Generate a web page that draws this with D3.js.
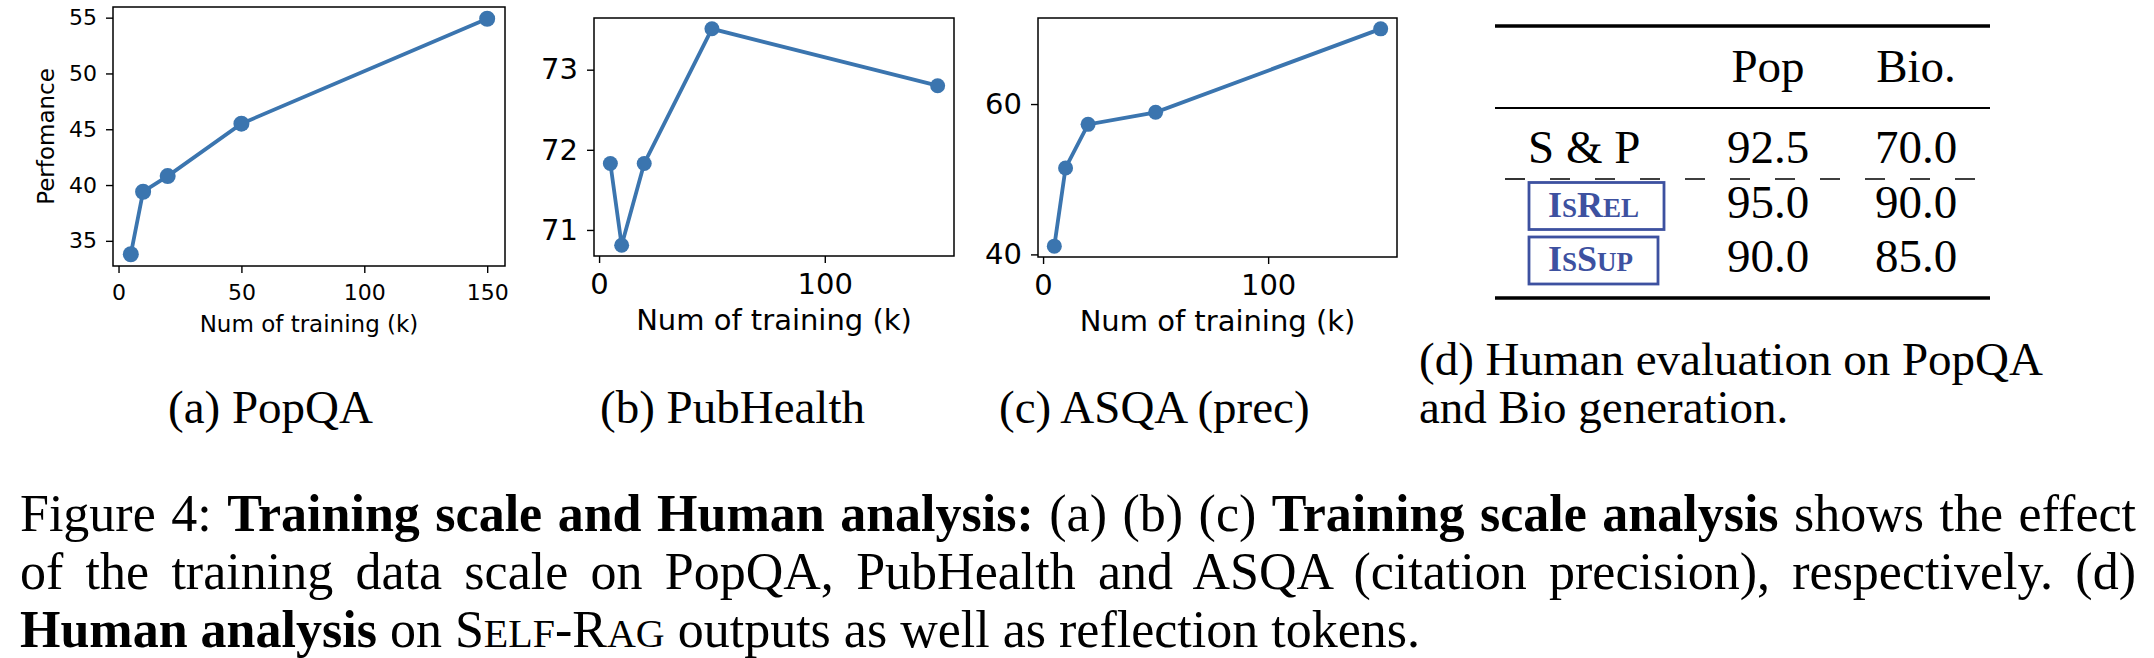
<!DOCTYPE html>
<html>
<head>
<meta charset="utf-8">
<script src="https://cdn.jsdelivr.net/npm/d3@7"></script>
<style>
  html, body { margin: 0; padding: 0; background: #fff; }
</style>
</head>
<body>
<div id="fig"></div>
<script>
// data
var trainSizes = [5, 10, 20, 50, 150];
var popqaScores = [33.8, 39.4, 40.8, 45.5, 54.9];
var pubhealthScores = [71.83, 70.81, 71.83, 73.51, 72.80];
var asqaScores = [41.1, 51.5, 57.3, 58.9, 70.0];

var popTicksX = [0, 50, 100, 150];
var popTicksY = [35, 40, 45, 50, 55];
var pubTicksX = [0, 100];
var pubTicksY = [71, 72, 73];
var asqaTicksX = [0, 100];
var asqaTicksY = [40, 60];

var subCaptions = ['(a) PopQA', '(b) PubHealth', '(c) ASQA (prec)'];

// table (d)
var tableCols = ['Pop', 'Bio.'];
var tableRows = ['S & P', 'IsRel', 'IsSup'];
var popHuman = ['92.5', '95.0', '90.0'];
var bioHuman = ['70.0', '90.0', '85.0'];

var lineColor = '#3b75af';
var tokenColor = '#3d51a0';
var serif = '"Liberation Serif", "Times New Roman", serif';
var sans = '"DejaVu Sans", sans-serif';

var width = 2154;
var height = 658;

var svg = d3.select('#fig').append('svg')
	.attr('width', width)
	.attr('height', height)
	.style('display', 'block');

// matplotlib style 5% padding around the data
function padded(vals) {
	var ext = d3.extent(vals);
	var m = (ext[1] - ext[0]) * 0.05;
	return [ext[0] - m, ext[1] + m];
}

function DrawPanel(cfg) {
	var g = svg.append('g');
	var x = d3.scaleLinear().domain(padded(trainSizes)).range([cfg.left, cfg.right]);
	var y = d3.scaleLinear().domain(padded(cfg.values)).range([cfg.bottom, cfg.top]);

	var xAxisCall = d3.axisBottom(x).tickValues(cfg.xTicks).tickSize(7).tickSizeOuter(0)
		.tickPadding(cfg.xPad).tickFormat(d3.format('d'));
	var yAxisCall = d3.axisLeft(y).tickValues(cfg.yTicks).tickSize(7).tickSizeOuter(0)
		.tickPadding(9).tickFormat(d3.format('d'));

	var xa = g.append('g')
		.attr('transform', 'translate(0,' + cfg.bottom + ')')
		.call(xAxisCall);
	var ya = g.append('g')
		.attr('transform', 'translate(' + cfg.left + ',0)')
		.call(yAxisCall);
	[xa, ya].forEach(function(a) {
		a.select('.domain').remove();
		a.selectAll('line').attr('stroke', '#000').attr('stroke-width', 1.4);
		a.selectAll('text').attr('fill', '#000').style('font-family', sans).style('font-size', cfg.font + 'px');
	});

	// frame
	g.append('rect')
		.attr('x', cfg.left).attr('y', cfg.top)
		.attr('width', cfg.right - cfg.left).attr('height', cfg.bottom - cfg.top)
		.attr('fill', 'none').attr('stroke', '#000').attr('stroke-width', 1.5);

	var pts = trainSizes.map(function(t, i) { return {t: t, v: cfg.values[i]}; });
	var line = d3.line()
		.x(function(d) { return x(d.t); })
		.y(function(d) { return y(d.v); });

	g.append('path').datum(pts)
		.attr('d', line)
		.attr('fill', 'none')
		.attr('stroke', lineColor)
		.attr('stroke-width', 3.8);

	g.selectAll('circle.pt').data(pts).enter().append('circle')
		.attr('class', 'pt')
		.attr('cx', function(d) { return x(d.t); })
		.attr('cy', function(d) { return y(d.v); })
		.attr('r', cfg.r)
		.attr('fill', lineColor);

	g.append('text')
		.attr('x', (cfg.left + cfg.right) / 2)
		.attr('y', cfg.bottom + cfg.labelOff)
		.attr('text-anchor', 'middle')
		.style('font-family', sans)
		.style('font-size', cfg.labelFont + 'px')
		.text('Num of training (k)');

	if (cfg.yLabel) {
		g.append('text')
			.attr('transform', 'translate(' + cfg.yLabelX + ',' + (cfg.top + cfg.bottom) / 2 + ') rotate(-90)')
			.attr('text-anchor', 'middle')
			.style('font-family', sans)
			.style('font-size', cfg.labelFont + 'px')
			.text(cfg.yLabel);
	}

	svg.append('text')
		.attr('x', cfg.capX)
		.attr('y', 423)
		.style('font-family', serif)
		.style('font-size', '47px')
		.text(cfg.caption);
}

DrawPanel({values: popqaScores, xTicks: popTicksX, yTicks: popTicksY,
	left: 113, right: 505, top: 7, bottom: 266, font: 22, labelFont: 23, xPad: 11, labelOff: 66, r: 8,
	yLabel: 'Perfomance', yLabelX: 54, caption: subCaptions[0], capX: 168});
DrawPanel({values: pubhealthScores, xTicks: pubTicksX, yTicks: pubTicksY,
	left: 594, right: 954, top: 18, bottom: 256, font: 29, labelFont: 29, xPad: 10, labelOff: 74, r: 7.5,
	caption: subCaptions[1], capX: 600});
DrawPanel({values: asqaScores, xTicks: asqaTicksX, yTicks: asqaTicksY,
	left: 1038, right: 1397, top: 18, bottom: 257, font: 29, labelFont: 29, xPad: 10, labelOff: 74, r: 7.5,
	caption: subCaptions[2], capX: 999});

// ---- table (d) ----
var tb = svg.append('g').style('font-family', serif);
var tLeft = 1495, tRight = 1990;
var colX = d3.scalePoint().domain(tableCols).range([1768, 1916]);
var rowBase = d3.scalePoint().domain(tableRows).range([163, 272]);

[[26, 3.5], [108, 2], [298, 3.5]].forEach(function(r) {
	tb.append('line').attr('x1', tLeft).attr('x2', tRight).attr('y1', r[0]).attr('y2', r[0])
		.attr('stroke', '#000').attr('stroke-width', r[1]);
});
tb.append('line').attr('x1', tLeft).attr('x2', tRight).attr('y1', 179).attr('y2', 179)
	.attr('stroke', '#000').attr('stroke-width', 1.6)
	.attr('stroke-dasharray', '20 25').attr('stroke-dashoffset', 35);

tableCols.forEach(function(c) {
	tb.append('text').attr('x', colX(c)).attr('y', 82).attr('text-anchor', 'middle')
		.style('font-size', '47px').text(c);
});

tableRows.forEach(function(r, i) {
	var yb = rowBase(r);
	if (i === 0) {
		tb.append('text').attr('x', 1528).attr('y', yb).style('font-size', '47px').text(r);
	} else {
		// reflection token box with small caps
		var boxW = i === 1 ? 135 : 129;
		tb.append('rect').attr('x', 1529).attr('y', yb - 35).attr('width', boxW).attr('height', 47)
			.attr('fill', 'none').attr('stroke', tokenColor).attr('stroke-width', 2.8);
		var t = tb.append('text').attr('x', 1548).attr('y', yb - 1)
			.attr('fill', tokenColor).style('font-weight', 'bold');
		var parts = i === 1 ? [['I', 36], ['S', 27], ['R', 36], ['EL', 27]] : [['I', 36], ['S', 27], ['S', 36], ['UP', 27]];
		parts.forEach(function(p) {
			t.append('tspan').style('font-size', p[1] + 'px').text(p[0]);
		});
	}
	tb.append('text').attr('x', colX('Pop')).attr('y', yb).attr('text-anchor', 'middle')
		.style('font-size', '47px').text(popHuman[i]);
	tb.append('text').attr('x', colX('Bio.')).attr('y', yb).attr('text-anchor', 'middle')
		.style('font-size', '47px').text(bioHuman[i]);
});

['(d) Human evaluation on PopQA', 'and Bio generation.'].forEach(function(s, i) {
	svg.append('text').attr('x', 1419).attr('y', 375 + i * 48)
		.style('font-family', serif).style('font-size', '47px').text(s);
});

// ---- figure caption ----
var captionLines = [
	[['Figure 4: ', 'n'], ['Training scale and Human analysis:', 'b'], [' (a) (b) (c) ', 'n'],
	 ['Training scale analysis', 'b'], [' shows the effect', 'n']],
	[['of the training data scale on PopQA, PubHealth and ASQA (citation precision), respectively. (d)', 'n']],
	[['Human analysis', 'b'], [' on S', 'n'], ['ELF', 's'], ['-R', 'n'], ['AG', 's'],
	 [' outputs as well as reflection tokens.', 'n']]
];
var capSize = 52;
captionLines.forEach(function(parts, i) {
	var t = svg.append('text').attr('x', 20).attr('y', 531 + i * 58)
		.style('font-family', serif).style('font-size', capSize + 'px')
		.attr('xml:space', 'preserve').style('white-space', 'pre');
	parts.forEach(function(p) {
		var ts = t.append('tspan').text(p[0]);
		if (p[1] === 'b') ts.style('font-weight', 'bold');
		if (p[1] === 's') ts.style('font-size', Math.round(capSize * 0.76) + 'px');
	});
	if (i < 2) {
		// justify to the column width
		var natural = t.node().getComputedTextLength();
		var gaps = parts.map(function(p) { return p[0]; }).join('').split(' ').length - 1;
		t.style('word-spacing', ((2136 - 20 - natural) / gaps) + 'px');
	}
});
</script>
</body>
</html>
